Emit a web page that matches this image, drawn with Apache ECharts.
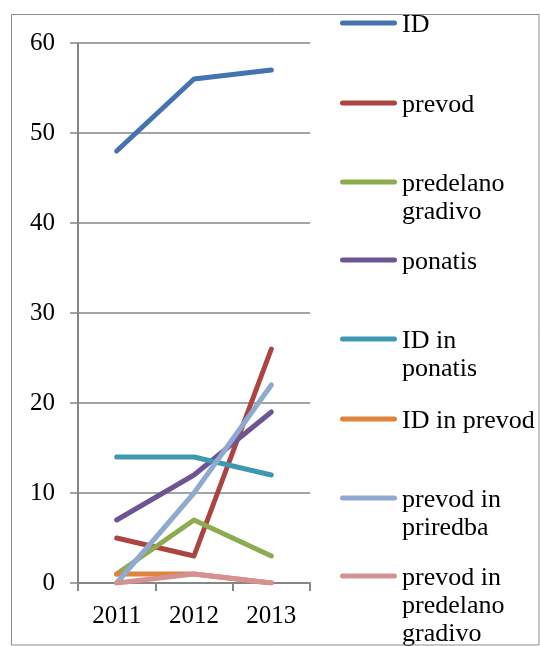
<!DOCTYPE html>
<html><head><meta charset="utf-8">
<script src="https://cdn.jsdelivr.net/npm/echarts@6/dist/echarts.min.js"></script>
<style>html,body{margin:0;padding:0;background:#fff}#c{width:540px;height:646px}</style>
</head><body><div id="c"></div>
<script>
const categories = ['2011','2012','2013'];
const seriesNames = ['ID','prevod','predelano gradivo','ponatis','ID in ponatis','ID in prevod','prevod in priredba','prevod in predelano gradivo'];
const legendLabels = ['ID','prevod','predelano\ngradivo','ponatis','ID in\nponatis','ID in prevod','prevod in\npriredba','prevod in\npredelano\ngradivo'];
const vID = [48,56,57];
const vPrevod = [5,3,26];
const vPredelano = [1,7,3];
const vPonatis = [7,12,19];
const vIDPonatis = [14,14,12];
const vIDPrevod = [1,1,0];
const vPrevodPriredba = [0,10,22];
const vPrevodPredelano = [0,1,0];
const values = [vID,vPrevod,vPredelano,vPonatis,vIDPonatis,vIDPrevod,vPrevodPriredba,vPrevodPredelano];
const colors = ['#4573AF','#AC4542','#8DAB4F','#6E5493','#3F98B1','#E0843D','#8FA9D0','#D49191'];
const legendIconY = [23,103,182,260,339,419,498,576];

const font = '"Liberation Serif","Times New Roman",serif';
const LH = 28;
const chart = echarts.init(document.getElementById('c'));
const legends = seriesNames.map((n,i)=>{
  const lines = legendLabels[i].split('\n').length;
  const H = lines*LH, c = LH/2 - 2, r = 2.5, W = 57;
  const icon = `path://M${r},${c-r} L${W-r},${c-r} A${r},${r} 0 0 1 ${W-r},${c+r} L${r},${c+r} A${r},${r} 0 0 1 ${r},${c-r} Z M0,0 M${W},${H}`;
  return {
    data:[n], orient:'vertical', left:340, top:legendIconY[i]-c, padding:0,
    itemWidth:W, itemHeight:H, itemGap:0, icon:icon, symbolKeepAspect:false,
    formatter:()=>legendLabels[i],
    textStyle:{fontFamily:font,fontSize:26,color:'#000',lineHeight:LH},
    selectedMode:false
  };
});
chart.setOption({
  animation:false,
  color:colors,
  graphic:[{type:'rect',z:100,shape:{x:11.5,y:14.5,width:527.5,height:630.5},style:{fill:'none',stroke:'#8C8C8C',lineWidth:1}}],
  legend:legends,
  grid:{left:78,top:43,right:230,bottom:63},
  xAxis:{type:'category',data:categories,boundaryGap:true,
    axisLine:{lineStyle:{color:'#868686',width:2}},
    axisTick:{show:true,length:8,interval:0,lineStyle:{color:'#868686',width:2}},
    axisLabel:{fontFamily:font,fontSize:25,color:'#000',margin:21}},
  yAxis:{type:'value',min:0,max:60,interval:10,
    axisLine:{show:true,lineStyle:{color:'#868686',width:2}},
    axisTick:{show:true,length:8,lineStyle:{color:'#868686',width:1.5}},
    splitLine:{lineStyle:{color:'#868686',width:1.5}},
    axisLabel:{fontFamily:font,fontSize:25,color:'#000',margin:23}},
  series:seriesNames.map((n,i)=>({name:n,type:'line',data:values[i],symbol:'none',
    lineStyle:{width:5,cap:'round',join:'round',color:colors[i]},itemStyle:{color:colors[i]}}))
});
</script></body></html>
